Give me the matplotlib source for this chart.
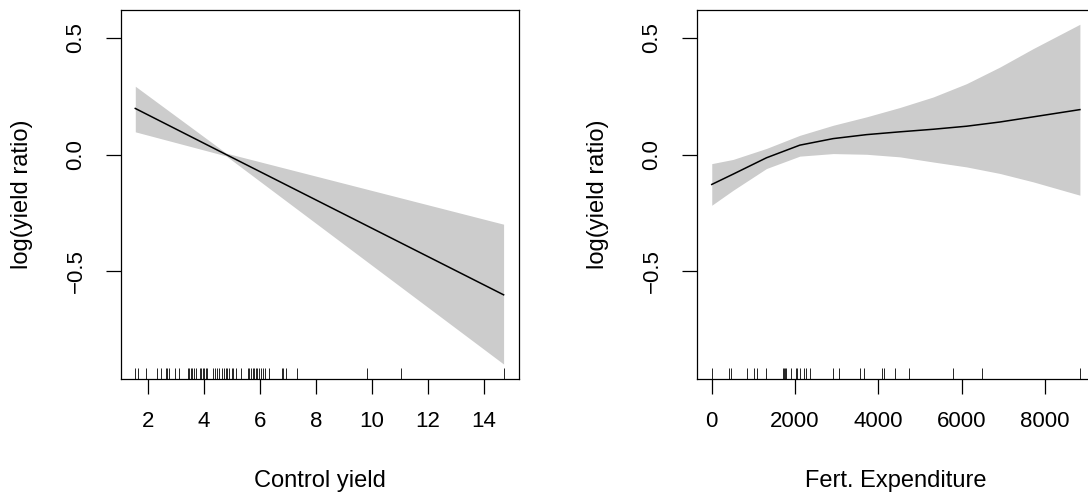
import matplotlib
matplotlib.use("Agg")
import matplotlib.pyplot as plt

plt.rcParams["font.family"] = ["Liberation Sans", "DejaVu Sans"]

# left panel: control yield (linear fit)
cy_x = [1.56, 4.80, 14.70]
cy_fit = [0.197, 0.0, -0.600]
cy_upper = [0.292, 0.006, -0.298]
cy_lower = [0.097, -0.006, -0.896]
cy_rug = [1.55, 1.67, 1.94, 2.34, 2.46, 2.65, 2.70, 2.77, 2.97, 3.13,
          3.45, 3.48, 3.53, 3.60, 3.65, 3.72, 3.87, 3.90, 3.96, 4.01,
          4.08, 4.13, 4.32, 4.40, 4.48, 4.56, 4.64, 4.72, 4.79, 4.84,
          4.91, 5.00, 5.06, 5.15, 5.32, 5.57, 5.63, 5.69, 5.75, 5.80,
          5.86, 5.92, 5.98, 6.04, 6.10, 6.18, 6.33, 6.78, 6.84, 6.92,
          7.32, 9.84, 11.04, 14.71]

# right panel: fertiliser expenditure (smooth)
fe_x = [0, 512, 1312, 2112, 2912, 3712, 4512, 5312, 6112, 6912, 7712, 8832]
fe_fit = [-0.128, -0.084, -0.014, 0.040, 0.068, 0.085, 0.097, 0.108, 0.121, 0.139, 0.161, 0.192]
fe_upper = [-0.039, -0.021, 0.026, 0.082, 0.125, 0.161, 0.201, 0.246, 0.303, 0.374, 0.453, 0.557]
fe_lower = [-0.217, -0.153, -0.060, -0.007, 0.004, 0.001, -0.010, -0.032, -0.053, -0.081, -0.117, -0.174]
fe_rug = [0, 416, 472, 856, 1016, 1096, 1296, 1712, 1736, 1768, 1792,
          1896, 2016, 2056, 2112, 2208, 2256, 2368, 2912, 3056, 3552,
          3648, 4096, 4136, 4408, 4728, 5792, 6472, 8832]

W, H = 1088, 498
fig = plt.figure(figsize=(W / 100, H / 100), dpi=100)

panels = [
    (121, cy_x, cy_fit, cy_upper, cy_lower, cy_rug, "Control yield",
     [2, 4, 6, 8, 10, 12, 14], (1.05, 15.25)),
    (697, fe_x, fe_fit, fe_upper, fe_lower, fe_rug, "Fert. Expenditure",
     [0, 2000, 4000, 6000, 8000], (-354, 9194)),
]

for left, x, fit, up, lo, rug, xlab, xticks, xlim in panels:
    ax = fig.add_axes([left / W, (H - 379) / H, 398 / W, 369 / H])
    ax.fill_between(x, lo, up, color="#cccccc", linewidth=0)
    ax.plot(x, fit, color="black", linewidth=1.1)
    ax.vlines(rug, 0, 0.031, transform=ax.get_xaxis_transform(),
              color="black", linewidth=0.6)
    ax.set_xlim(*xlim)
    ax.set_ylim(-0.96, 0.618)
    ax.set_xticks(xticks)
    ax.set_yticks([-0.5, 0.0, 0.5])
    ax.set_yticklabels(["\u22120.5", "0.0", "0.5"], rotation=90, va="center")
    ax.tick_params(direction="out", length=10.8, width=0.9, labelsize=16)
    ax.tick_params(axis="x", pad=12)
    ax.tick_params(axis="y", pad=14)
    for s in ax.spines.values():
        s.set_linewidth(0.9)
    ax.set_xlabel(xlab, fontsize=17, va="center")
    ax.xaxis.set_label_coords(0.5, -102 / 369)
    ax.set_ylabel("log(yield ratio)", fontsize=17, va="center")
    ax.yaxis.set_label_coords(-99 / 398, 0.5)

fig.savefig("out.png", dpi=100)
